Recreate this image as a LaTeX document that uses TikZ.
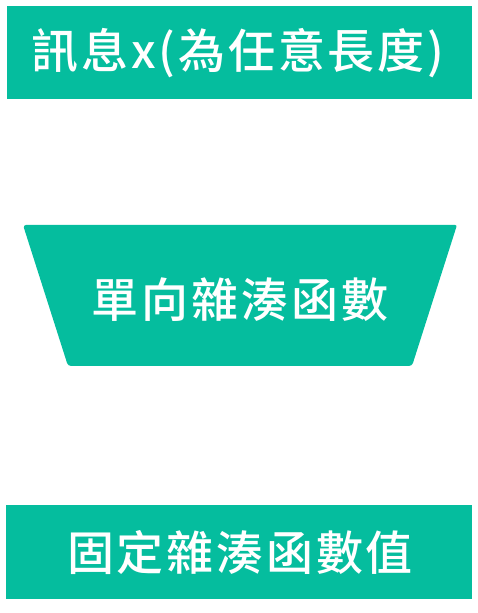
\documentclass[tikz,border=0pt]{standalone}
\usepackage{fontspec}
\newfontfamily\cjkfont{Noto Sans CJK TC Medium}[LetterSpace=6]
\definecolor{hashgreen}{HTML}{05BD9E}

\begin{document}
\begin{tikzpicture}
[x=1pt,y=1pt,%
  boxDecorate/.style={fill=hashgreen,draw=none},%
  textDecorate/.style={text=white,font=\cjkfont\fontsize{47}{52}\selectfont,inner sep=0pt}]
\useasboundingbox (0,0) rectangle (478,613);
%% boxes
\fill[boxDecorate] (7,514) rectangle (472,607);
\fill[boxDecorate,rounded corners=2pt] (23,388) -- (457,388) [rounded corners=3pt] -- (412,247) -- (68,247) -- cycle;
\fill[boxDecorate] (6,14) rectangle (472,108);
%% labels
\node[textDecorate] (msg) at (238,560) {訊息x(為任意長度)};
\node[textDecorate] (hash) at (240,313) {單向雜湊函數};
\node[textDecorate] (value) at (240,61) {固定雜湊函數值};
\end{tikzpicture}
\end{document}
